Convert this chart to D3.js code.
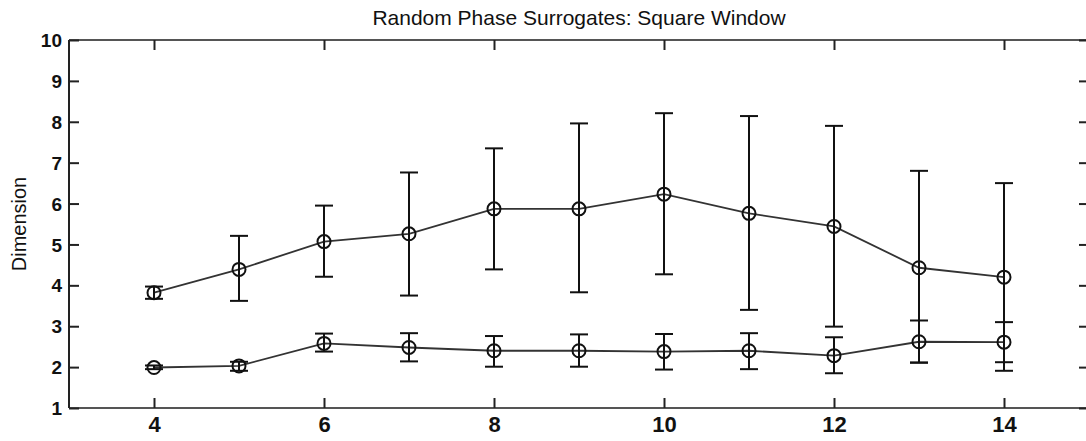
<!DOCTYPE html>
<html>
<head>
<meta charset="utf-8">
<script src="https://d3js.org/d3.v7.min.js"></script>
<style>
  html, body { margin: 0; padding: 0; background: #fff; }
  svg { display: block; }
</style>
</head>
<body>
<svg id="chart" width="1086" height="441"></svg>
<script>
// Embedding dimension vs. window size, mean with spread, for two surrogate sets
const windowSizes = [4, 5, 6, 7, 8, 9, 10, 11, 12, 13, 14];

const upperMean = [3.82, 4.39, 5.07, 5.26, 5.87, 5.87, 6.23, 5.76, 5.44, 4.43, 4.20];
const upperHigh = [3.97, 5.21, 5.95, 6.76, 7.35, 7.96, 8.21, 8.14, 7.90, 6.80, 6.50];
const upperLow  = [3.67, 3.62, 4.21, 3.75, 4.39, 3.83, 4.27, 3.40, 2.99, 2.11, 1.91];

const lowerMean = [1.99, 2.03, 2.58, 2.48, 2.40, 2.40, 2.38, 2.40, 2.28, 2.62, 2.61];
const lowerHigh = [2.04, 2.13, 2.82, 2.83, 2.76, 2.80, 2.81, 2.83, 2.73, 3.14, 3.10];
const lowerLow  = [1.95, 1.91, 2.38, 2.14, 2.01, 2.01, 1.94, 1.95, 1.85, 2.11, 2.12];

const xTickValues = [4, 6, 8, 10, 12, 14];
const yTickValues = [1, 2, 3, 4, 5, 6, 7, 8, 9, 10];

const titleText = "Random Phase Surrogates: Square Window";
const yLabelText = "Dimension";

const svg = d3.select("#chart");
const plot = { left: 69, right: 1089, top: 40, bottom: 408 };

const x = d3.scaleLinear().domain([3, 15]).range([plot.left, plot.right]);
const y = d3.scaleLinear().domain([1, 10]).range([plot.bottom, plot.top]);

const font = "'Liberation Sans', Arial, Helvetica, sans-serif";

// Frame: top and bottom rules, left and right spines
svg.append("line").attr("x1", plot.left).attr("x2", plot.right)
  .attr("y1", plot.top).attr("y2", plot.top)
  .attr("stroke", "#555").attr("stroke-width", 2);
svg.append("line").attr("x1", plot.left).attr("x2", plot.right)
  .attr("y1", plot.bottom).attr("y2", plot.bottom)
  .attr("stroke", "#555").attr("stroke-width", 2);
svg.append("line").attr("x1", plot.left).attr("x2", plot.left)
  .attr("y1", plot.top).attr("y2", plot.bottom)
  .attr("stroke", "#222").attr("stroke-width", 2);
svg.append("line").attr("x1", plot.right).attr("x2", plot.right)
  .attr("y1", plot.top).attr("y2", plot.bottom)
  .attr("stroke", "#222").attr("stroke-width", 2);

const tickLen = 10;

// Axes with inward ticks
const xBottom = svg.append("g").attr("transform", `translate(0,${plot.bottom})`)
  .call(d3.axisBottom(x).tickValues(xTickValues).tickSize(-tickLen));
const xTop = svg.append("g").attr("transform", `translate(0,${plot.top})`)
  .call(d3.axisTop(x).tickValues(xTickValues).tickSize(-tickLen).tickFormat(""));
const yLeft = svg.append("g").attr("transform", `translate(${plot.left},0)`)
  .call(d3.axisLeft(y).tickValues(yTickValues).tickSize(-tickLen));
const yRight = svg.append("g").attr("transform", `translate(${plot.right},0)`)
  .call(d3.axisRight(y).tickValues(yTickValues).tickSize(-tickLen).tickFormat(""));

[xBottom, xTop, yLeft, yRight].forEach(g => {
  g.select(".domain").remove();
  g.selectAll(".tick line").attr("stroke", "#222").attr("stroke-width", 2);
});

xBottom.selectAll(".tick text")
  .attr("font-family", font).attr("font-weight", "bold").attr("font-size", 22)
  .attr("fill", "#111").attr("y", 24).attr("dy", 0);
yLeft.selectAll(".tick text")
  .attr("font-family", font).attr("font-weight", "bold").attr("font-size", 19)
  .attr("fill", "#111").attr("x", -7).attr("dy", "0.35em");

// Title and axis label
svg.append("text")
  .attr("x", (plot.left + plot.right) / 2).attr("y", 25)
  .attr("text-anchor", "middle")
  .attr("font-family", font).attr("font-size", 21).attr("fill", "#111")
  .text(titleText);

svg.append("text")
  .attr("transform", `translate(26,${(plot.top + plot.bottom) / 2}) rotate(-90)`)
  .attr("text-anchor", "middle")
  .attr("font-family", font).attr("font-size", 20).attr("fill", "#111")
  .text(yLabelText);

// Draw one series: connecting line, error bars, open circles
function drawSeries(mean, low, high) {
  const rows = windowSizes.map((w, i) => ({ w, m: mean[i], lo: low[i], hi: high[i] }));
  const g = svg.append("g");

  g.append("path")
    .datum(rows)
    .attr("fill", "none").attr("stroke", "#333").attr("stroke-width", 1.8)
    .attr("d", d3.line().x(d => x(d.w)).y(d => y(d.m)));

  const capHalf = 9;
  const bars = g.selectAll(".err").data(rows).join("g").attr("class", "err")
    .attr("stroke", "#111").attr("stroke-width", 2);
  bars.append("line")
    .attr("x1", d => x(d.w)).attr("x2", d => x(d.w))
    .attr("y1", d => y(d.lo)).attr("y2", d => y(d.hi));
  bars.append("line")
    .attr("x1", d => x(d.w) - capHalf).attr("x2", d => x(d.w) + capHalf)
    .attr("y1", d => y(d.hi)).attr("y2", d => y(d.hi));
  bars.append("line")
    .attr("x1", d => x(d.w) - capHalf).attr("x2", d => x(d.w) + capHalf)
    .attr("y1", d => y(d.lo)).attr("y2", d => y(d.lo));

  g.selectAll("circle").data(rows).join("circle")
    .attr("cx", d => x(d.w)).attr("cy", d => y(d.m)).attr("r", 6.5)
    .attr("fill", "none").attr("stroke", "#111").attr("stroke-width", 2);
}

drawSeries(upperMean, upperLow, upperHigh);
drawSeries(lowerMean, lowerLow, lowerHigh);
</script>
</body>
</html>
